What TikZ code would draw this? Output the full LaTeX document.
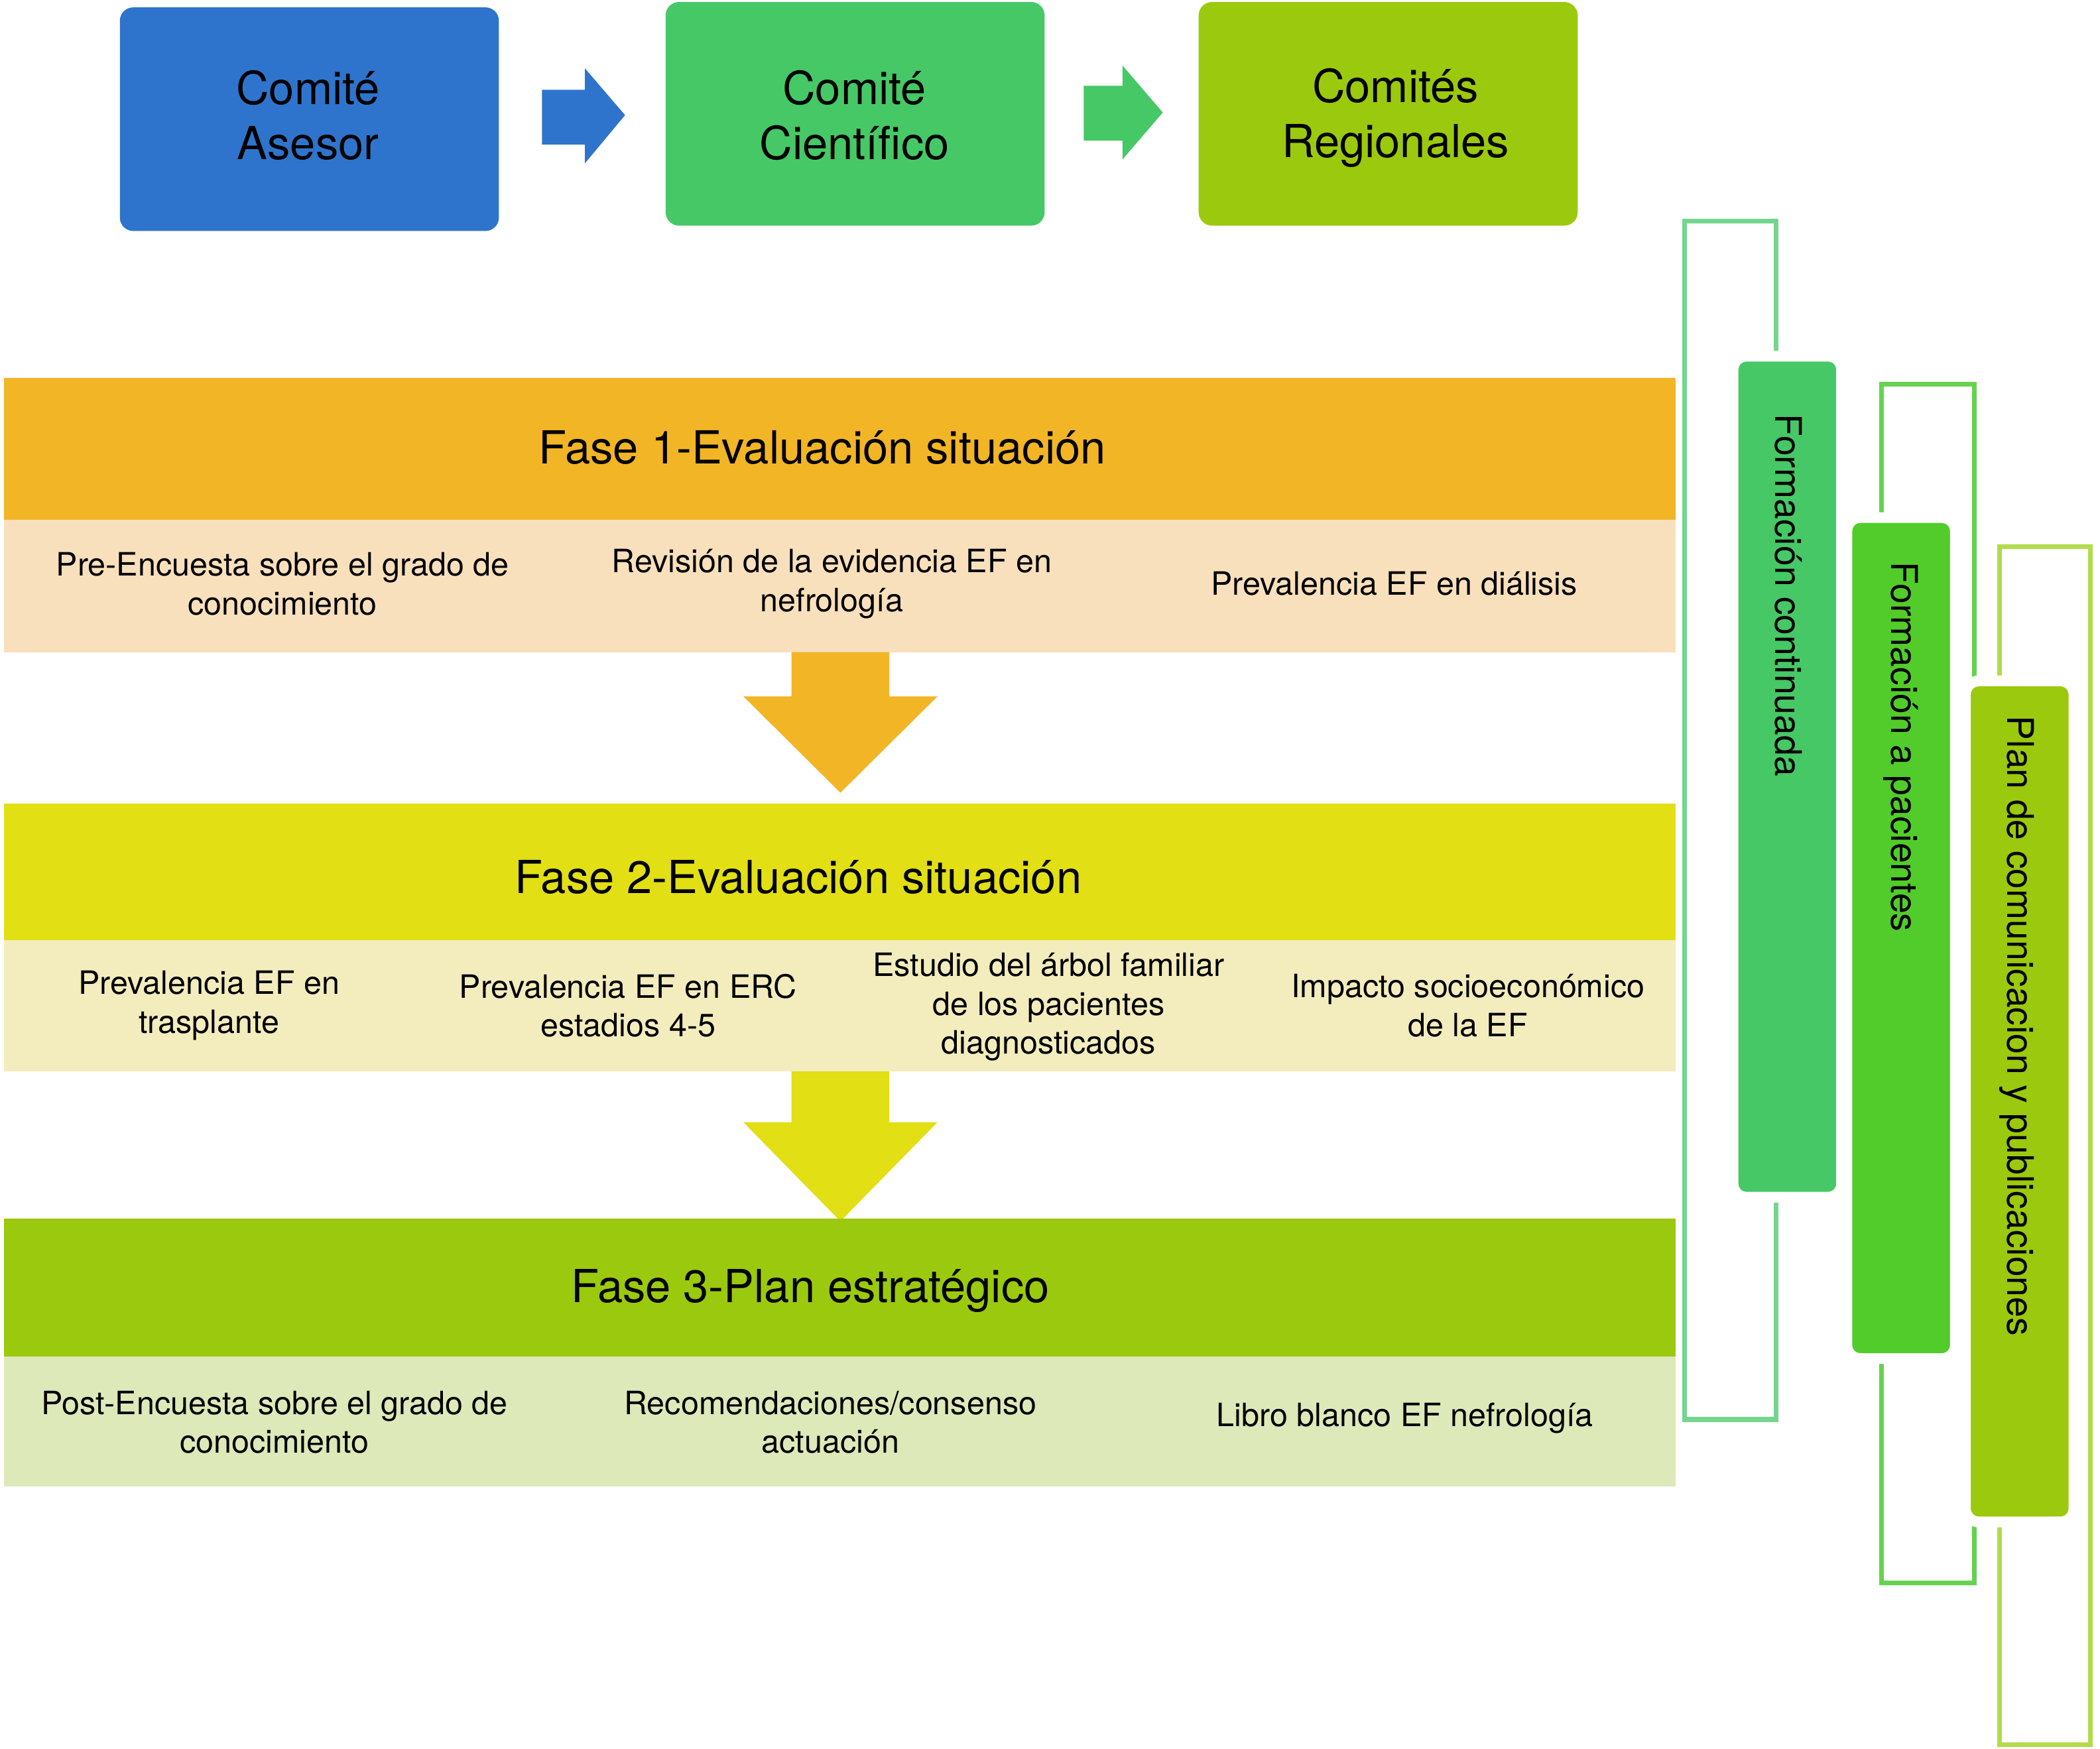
\documentclass[tikz,border=0pt]{standalone}
\usepackage{fontspec}
\setmainfont{TeX Gyre Heros}
\usepackage{tikz}
\usetikzlibrary{positioning,calc}
\definecolor{azul}{HTML}{2F74CC}
\definecolor{verde}{HTML}{46C866}
\definecolor{lima}{HTML}{9BC90E}
\definecolor{naranja}{HTML}{F2B526}
\definecolor{melocoton}{HTML}{F9E0BC}
\definecolor{amarillo}{HTML}{E2DF15}
\definecolor{crema}{HTML}{F3EDBE}
\definecolor{verdepalido}{HTML}{DDE9B9}
\definecolor{verdeb}{HTML}{52CC2A}
\definecolor{marcoa}{HTML}{74D68E}
\definecolor{marcob}{HTML}{66D24F}
\definecolor{marcoc}{HTML}{B2DC4C}

\begin{document}
\begin{tikzpicture}[x=1pt, y=-1pt,
  comite/.style={rounded corners=10pt, minimum width=283pt, minimum height=167pt, inner sep=0pt},
  fase/.style={minimum width=1248pt, inner sep=0pt},
  titulo/.style={inner sep=0pt, align=center, font=\fontsize{34}{41}\selectfont},
  celda/.style={inner sep=0pt},
  texto/.style={inner sep=0pt, align=center, font=\fontsize{24}{29}\selectfont},
  marco/.style={line width=3.5pt, fill=white},
  barra/.style={rounded corners=10pt, minimum width=81pt, minimum height=628pt, draw=white, line width=8pt},
  vtexto/.style={rotate=-90, anchor=west, inner sep=0pt, font=\fontsize{27.4}{32}\selectfont}]
\useasboundingbox (0,0) rectangle (1568,1306);

% comites
\node[comite, fill=azul] (asesor) at (231,89) {};
\node[comite, fill=verde] (cientifico) at (638.5,85) {};
\node[comite, fill=lima] (regionales) at (1036.5,85) {};
\node[titulo] (tasesor) at (230,86) {Comité\\Asesor};
\node[titulo] (tcientifico) at (638,86) {Comité\\Científico};
\node[titulo] (tregionales) at (1042,88) {Comités\\Regionales};

\fill[azul] ($(asesor.east)+(32,-22)$) -- ++(32,0) -- ++(0,-16) -- ++(30,35)
  -- ++(-30,36) -- ++(0,-14) -- ++(-32,0) -- cycle;
\fill[verde] ($(cientifico.east)+(29,-21)$) -- ++(29,0) -- ++(0,-15) -- ++(30,35)
  -- ++(-30,35) -- ++(0,-14) -- ++(-29,0) -- cycle;

% fase 1
\node[fase, fill=naranja, minimum height=106pt] (fase1) at (627,335) {};
\node[titulo] (t1) at (614,334) {Fase 1-Evaluación situación};
\node[celda, fill=melocoton, minimum width=417pt, minimum height=99pt] (c11) at (211.5,437.5) {};
\node[celda, fill=melocoton, minimum width=418pt, minimum height=99pt] (c12) at (629,437.5) {};
\node[celda, fill=melocoton, minimum width=413pt, minimum height=99pt] (c13) at (1044.5,437.5) {};
\node[texto] (p11) at (211,436) {Pre-Encuesta sobre el grado de\\conocimiento};
\node[texto] (p12) at (621,436) {Revisión de la evidencia EF en\\nefrología};
\node[texto] (p13) at (1041,436) {Prevalencia EF en diálisis};

\fill[naranja] (591,487) -- (664,487) -- (664,520) -- (700,520) -- (627.5,592)
  -- (555,520) -- (591,520) -- cycle;

% fase 2
\node[fase, fill=amarillo, minimum height=102pt] (fase2) at (627,651) {};
\node[titulo] (t2) at (596,655) {Fase 2-Evaluación situación};
\node[celda, fill=crema, minimum width=312pt, minimum height=98pt] (c21) at (159,751) {};
\node[celda, fill=crema, minimum width=312pt, minimum height=98pt] (c22) at (471,751) {};
\node[celda, fill=crema, minimum width=313pt, minimum height=98pt] (c23) at (783.5,751) {};
\node[celda, fill=crema, minimum width=311pt, minimum height=98pt] (c24) at (1095.5,751) {};
\node[texto] (p21) at (156,751) {Prevalencia EF en\\trasplante};
\node[texto] (p22) at (469,751) {Prevalencia EF en ERC\\estadios 4-5};
\node[texto] (p23) at (783,752) {Estudio del árbol familiar\\de los pacientes\\diagnosticados};
\node[texto] (p24) at (1096,751) {Impacto socioeconómico\\de la EF};

\fill[amarillo] (591,800) -- (664,800) -- (664,838) -- (700,838) -- (627.5,912)
  -- (555,838) -- (591,838) -- cycle;

% fase 3
\node[fase, fill=lima, minimum height=103pt] (fase3) at (627,961.5) {};
\node[titulo] (t3) at (605,964) {Fase 3-Plan estratégico};
\node[celda, fill=verdepalido, minimum width=415pt, minimum height=97pt] (c31) at (210.5,1061.5) {};
\node[celda, fill=verdepalido, minimum width=417pt, minimum height=97pt] (c32) at (626.5,1061.5) {};
\node[celda, fill=verdepalido, minimum width=416pt, minimum height=97pt] (c33) at (1043,1061.5) {};
\node[texto] (p31) at (205,1062) {Post-Encuesta sobre el grado de\\conocimiento};
\node[texto] (p32) at (620,1062) {Recomendaciones/consenso\\actuación};
\node[texto] (p33) at (1049,1059) {Libro blanco EF nefrología};

% lineas transversales
\draw[marco, draw=marcoa] (1258,165) rectangle (1326,1060);
\draw[marco, draw=marcob] (1405,287) rectangle (1474,1182);
\draw[marco, draw=marcoc] (1493,408) rectangle (1561,1303);

\node[barra, fill=verde] (fc) at (1334.5,580) {};
\node[barra, fill=verdeb] (fp) at (1419.5,700.5) {};
\node[barra, fill=lima] (pc) at (1508,822.5) {};
\node[vtexto] (tfc) at ($(fc.north)+(1,47)$) {Formación continuada};
\node[vtexto] (tfp) at ($(fp.north)+(0,37)$) {Formación a pacientes};
\node[vtexto] (tpc) at ($(pc.north)+(-2,30)$) {Plan de comunicacion y publicaciones};
\end{tikzpicture}
\end{document}
